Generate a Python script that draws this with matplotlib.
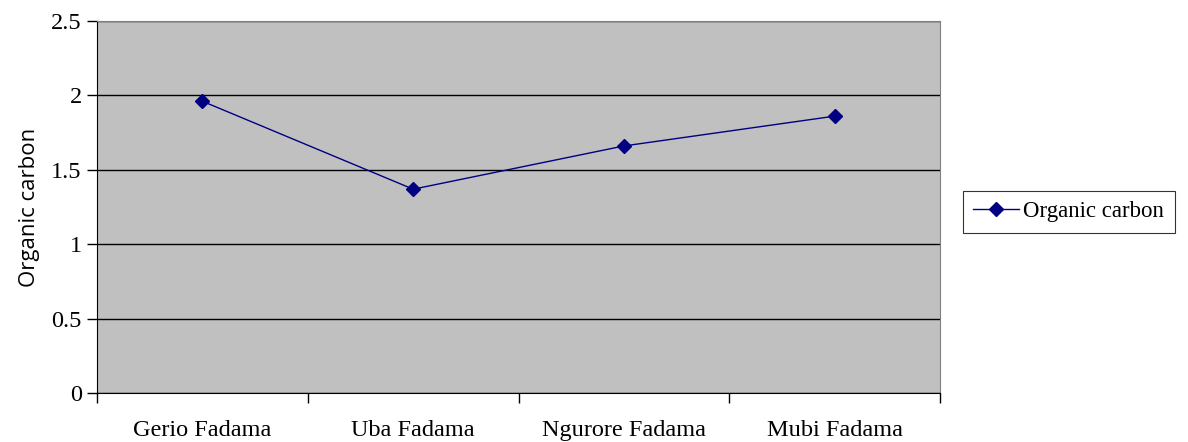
import matplotlib.pyplot as plt
import numpy as np

sites = ["Gerio Fadama", "Uba Fadama", "Ngurore Fadama", "Mubi Fadama"]
organic_carbon = [1.96, 1.37, 1.66, 1.86]
y_ticks = [0, 0.5, 1, 1.5, 2, 2.5]
y_tick_labels = ["0", "0.5", "1", "1.5", "2", "2.5"]

serif = "Liberation Serif"

fig = plt.figure(figsize=(11.88, 4.42), dpi=100)
ax = fig.add_axes([0.0817, 0.110, 0.7095, 0.843])
ax.set_facecolor("#C0C0C0")

x = np.arange(len(sites))
ax.plot(x, organic_carbon, color="#000080", linewidth=1, marker="D",
        markersize=7, label="Organic carbon", zorder=3)

ax.set_xlim(-0.5, len(sites) - 0.5)
ax.set_ylim(0, 2.5)

ax.set_yticks(y_ticks)
ax.set_yticklabels(y_tick_labels, fontfamily=serif, fontsize=17.5)
ax.yaxis.grid(True, color="black", linewidth=1)
ax.set_axisbelow(True)
ax.tick_params(axis="y", length=7, width=1, pad=4)

ax.set_xticks(x)
ax.set_xticklabels(sites, fontfamily=serif, fontsize=17.5)
ax.set_xticks(np.arange(-0.5, len(sites)), minor=True)
ax.tick_params(axis="x", which="major", length=0, pad=19)
ax.tick_params(axis="x", which="minor", length=7, width=1)

ax.set_ylabel("Organic carbon", fontfamily="Open Sans", fontsize=16, labelpad=8)

for side in ["top", "right"]:
    ax.spines[side].set_color("#808080")
for side in ["left", "bottom"]:
    ax.spines[side].set_color("black")

leg = ax.legend(loc="center left", bbox_to_anchor=(1.027, 0.487),
                prop={"family": serif, "size": 16.5}, frameon=True,
                fancybox=False, edgecolor="black", borderpad=0.45,
                handlelength=2.0, handletextpad=0.2, borderaxespad=0)
leg.get_frame().set_linewidth(0.8)

plt.savefig("out.png", dpi=100)
plt.close()
